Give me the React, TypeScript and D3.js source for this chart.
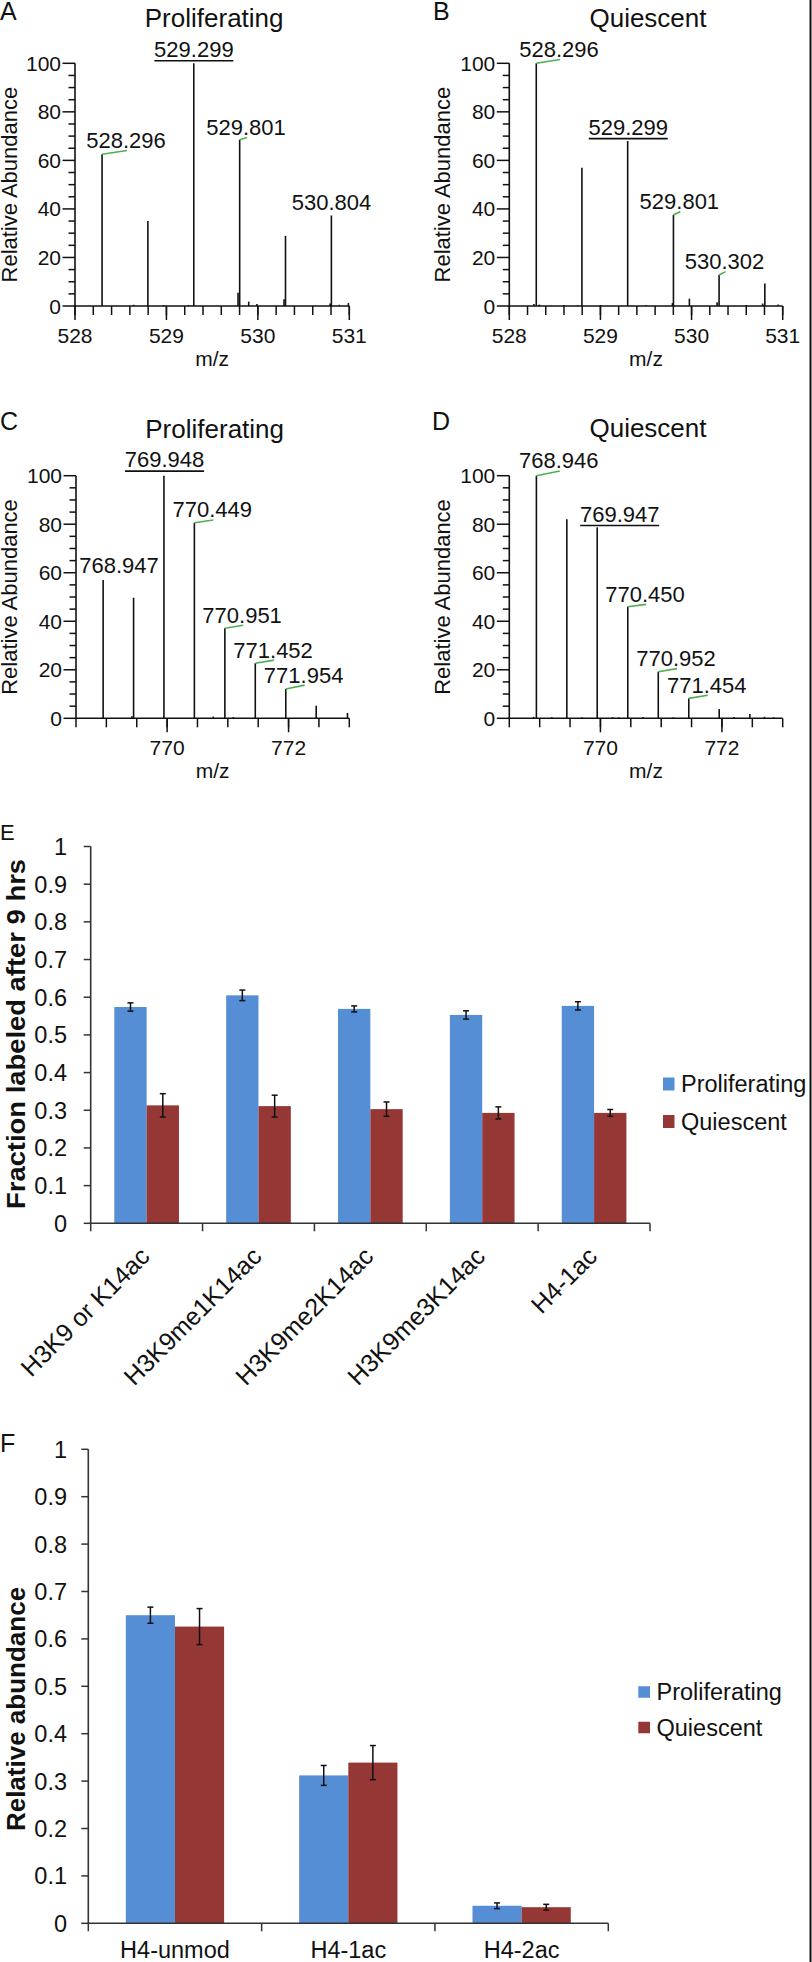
import React from 'react';
import * as d3 from 'd3';

const FONT = '"Liberation Sans", Arial, Helvetica, sans-serif';
const BLUE = '#558ed5';
const RED = '#953735';
const GREEN = '#4caf50';
const INK = '#111';

// ---------- Spectra data: [m/z, relative abundance] ----------
const peaksA: [number, number][] = [
  [528.296, 62.5], [528.797, 35.0], [529.299, 100], [529.783, 5.5], [529.801, 68.5],
  [530.286, 2.8], [530.302, 28.9], [530.804, 37.3],
  [528.64, 0.5], [528.97, 0.4], [529.24, 0.4], [529.90, 1.8], [529.99, 0.8],
  [530.79, 1.0], [530.89, 0.5], [530.99, 1.2],
];
const peaksB: [number, number][] = [
  [528.296, 100], [528.797, 57.0], [529.299, 68.0], [529.801, 37.5], [530.302, 12.8],
  [530.804, 9.3], [528.27, 0.8], [528.33, 0.6], [528.6, 0.4], [528.75, 0.3],
  [529.0, 0.4], [529.5, 0.3], [529.976, 3.0], [529.79, 1.2], [530.28, 1.5],
  [530.6, 0.4], [530.78, 1.0], [530.95, 0.6],
];
const peaksC: [number, number][] = [
  [768.947, 57.0], [769.448, 49.7], [769.948, 100], [770.449, 80.6], [770.951, 37.1],
  [771.452, 22.7], [771.954, 12.1], [772.455, 5.2], [772.97, 2.2],
  [769.42, 0.8], [770.76, 0.7], [771.09, 0.5],
];
const peaksD: [number, number][] = [
  [768.946, 100], [769.447, 82.1], [769.947, 78.7], [770.450, 46.0], [770.952, 19.2],
  [771.454, 8.2], [771.955, 3.8], [772.460, 1.8],
  [768.9, 0.6], [769.2, 0.4], [769.7, 0.4], [770.2, 0.5], [770.3, 0.4],
  [770.7, 0.5], [771.2, 0.4], [772.2, 0.5], [772.7, 0.6], [772.85, 0.4],
];

// peak annotations: peak m/z, text, label centre (m/z) and baseline (abundance)
type Ann = { mz: number; text: string; cx: number; base: number; leader: boolean; under: boolean };
const annA: Ann[] = [
  { mz: 528.296, text: '528.296', cx: 528.558, base: 65.1, leader: true, under: false },
  { mz: 529.299, text: '529.299', cx: 529.30, base: 102.6, leader: false, under: true },
  { mz: 529.801, text: '529.801', cx: 529.87, base: 70.5, leader: true, under: false },
  { mz: 530.804, text: '530.804', cx: 530.805, base: 39.6, leader: false, under: false },
];
const annB: Ann[] = [
  { mz: 528.296, text: '528.296', cx: 528.546, base: 102.6, leader: true, under: false },
  { mz: 529.299, text: '529.299', cx: 529.305, base: 70.5, leader: false, under: true },
  { mz: 529.801, text: '529.801', cx: 529.866, base: 40.0, leader: true, under: false },
  { mz: 530.302, text: '530.302', cx: 530.362, base: 15.2, leader: true, under: false },
];
const annC: Ann[] = [
  { mz: 768.947, text: '768.947', cx: 769.208, base: 59.7, leader: false, under: false },
  { mz: 769.948, text: '769.948', cx: 769.958, base: 103.4, leader: false, under: true },
  { mz: 770.449, text: '770.449', cx: 770.744, base: 82.8, leader: true, under: false },
  { mz: 770.951, text: '770.951', cx: 771.235, base: 39.4, leader: true, under: false },
  { mz: 771.452, text: '771.452', cx: 771.745, base: 25.0, leader: true, under: false },
  { mz: 771.954, text: '771.954', cx: 772.248, base: 14.7, leader: true, under: false },
];
const annD: Ann[] = [
  { mz: 768.946, text: '768.946', cx: 769.315, base: 103.0, leader: true, under: false },
  { mz: 769.947, text: '769.947', cx: 770.317, base: 81.0, leader: false, under: true },
  { mz: 770.450, text: '770.450', cx: 770.734, base: 48.0, leader: true, under: false },
  { mz: 770.952, text: '770.952', cx: 771.244, base: 21.5, leader: true, under: false },
  { mz: 771.454, text: '771.454', cx: 771.751, base: 10.5, leader: true, under: false },
];

const domain528: [number, number] = [528, 531];
const majors528 = [528, 529, 530, 531];
const minors528 = d3.range(0, 16).map((i) => 528 + i * 0.2);
const domain768: [number, number] = [768.5, 773];
const majors768 = [770, 772];
const minors768 = d3.range(0, 10).map((i) => 768.5 + i * 0.5);
const abundanceTicks = [0, 20, 40, 60, 80, 100];
const abundanceMinor = d3.range(0, 101, 5);

// ---------- Bar chart data ----------
const catsE = ['H3K9 or K14ac', 'H3K9me1K14ac', 'H3K9me2K14ac', 'H3K9me3K14ac', 'H4-1ac'];
const prolifE = [0.574, 0.605, 0.569, 0.553, 0.577];
const prolifErrE = [0.011, 0.014, 0.008, 0.011, 0.011];
const quiesE = [0.313, 0.311, 0.303, 0.293, 0.293];
const quiesErrE = [0.031, 0.029, 0.019, 0.016, 0.009];

const catsF = ['H4-unmod', 'H4-1ac', 'H4-2ac'];
const prolifF = [0.650, 0.312, 0.037];
const prolifErrF = [0.017, 0.021, 0.006];
const quiesF = [0.626, 0.339, 0.034];
const quiesErrF = [0.038, 0.036, 0.006];

const fracTicks = d3.range(0, 11).map((i) => i / 10);
const seriesNames = ['Proliferating', 'Quiescent'];

function fmtFrac(v: number) {
  if (v === 0) return '0';
  if (v === 1) return '1';
  return v.toFixed(1);
}

type SpecProps = {
  x0: number; x1: number; yb: number; yt: number;
  domain: [number, number]; majors: number[]; minors: number[];
  peaks: [number, number][]; ann: Ann[];
  title: string; titleY: number; letter: string; letterX: number; letterY: number; ylabX: number;
};

function Spectrum(p: SpecProps) {
  const x = d3.scaleLinear().domain(p.domain).range([p.x0, p.x1]);
  const y = d3.scaleLinear().domain([0, 100]).range([p.yb, p.yt]);
  const peakOf = (mz: number) => (p.peaks.find((d) => d[0] === mz) || [mz, 0])[1];
  const cx = (p.x0 + p.x1) / 2;
  return (
    <g>
      <text x={p.letterX} y={p.letterY} fontSize={25} fill={INK}>{p.letter}</text>
      <text x={cx + 2} y={p.titleY} fontSize={26} textAnchor="middle" fill={INK}>{p.title}</text>
      <text transform={`translate(${p.ylabX},${(y(0) + y(100)) / 2}) rotate(-90)`} fontSize={22} textAnchor="middle" fill={INK}>Relative Abundance</text>
      {p.peaks.map((d, i) => (
        <line key={i} x1={x(d[0])} x2={x(d[0])} y1={y(0)} y2={y(d[1])} stroke={INK} strokeWidth={1.6} />
      ))}
      <line x1={p.x0} x2={p.x0} y1={y(0)} y2={y(100)} stroke={INK} strokeWidth={1.6} />
      <line x1={p.x0} x2={p.x1} y1={y(0)} y2={y(0)} stroke={INK} strokeWidth={1.6} />
      {abundanceMinor.map((v) => (
        <line key={'ym' + v} x1={p.x0 - (v % 20 === 0 ? 12.5 : 6.5)} x2={p.x0} y1={y(v)} y2={y(v)} stroke={INK} strokeWidth={1.5} />
      ))}
      {abundanceTicks.map((v) => (
        <text key={'yl' + v} x={p.x0 - 14} y={y(v)} dy="0.36em" fontSize={21} textAnchor="end" fill={INK}>{v}</text>
      ))}
      {p.minors.map((v, i) => (
        <line key={'xm' + i} x1={x(v)} x2={x(v)} y1={y(0)} y2={y(0) + 9} stroke={INK} strokeWidth={1.5} />
      ))}
      {p.majors.map((v) => (
        <g key={'xM' + v}>
          <line x1={x(v)} x2={x(v)} y1={y(0)} y2={y(0) + 14} stroke={INK} strokeWidth={1.5} />
          <text x={x(v)} y={y(0) + 36.5} fontSize={21} textAnchor="middle" fill={INK}>{v}</text>
        </g>
      ))}
      <text x={cx} y={y(0) + 60} fontSize={21} textAnchor="middle" fill={INK}>m/z</text>
      {p.ann.map((a, i) => (
        <g key={'a' + i}>
          {a.leader && (
            <line x1={x(a.mz)} y1={y(peakOf(a.mz))} x2={x(a.cx) + 1} y2={y(a.base) + 2.5} stroke={GREEN} strokeWidth={1.6} />
          )}
          <text x={x(a.cx)} y={y(a.base)} fontSize={22} textAnchor="middle" fill={INK}>{a.text}</text>
          {a.under && (
            <line x1={x(a.cx) - 39.5} x2={x(a.cx) + 39.5} y1={y(a.base) + 3.7} y2={y(a.base) + 3.7} stroke={INK} strokeWidth={1.6} />
          )}
        </g>
      ))}
    </g>
  );
}

type BarProps = {
  cats: string[]; a: number[]; aErr: number[]; b: number[]; bErr: number[];
  x0: number; x1: number; yb: number; yt: number; pad: number;
  rotate: boolean; catFont: number; labelBase: number;
  ylab: string; ylabY: number; ylabLen?: number;
  letter: string; letterY: number; letterSize: number;
  legX: number; legY: number[]; sqW: number; sqH: number;
};

function Bars(p: BarProps) {
  const xb = d3.scaleBand<string>().domain(p.cats).range([p.x0, p.x1]).paddingInner(p.pad).paddingOuter(p.pad / 2);
  const xs = d3.scaleBand<string>().domain(seriesNames).range([0, xb.bandwidth()]);
  const y = d3.scaleLinear().domain([0, 1]).range([p.yb, p.yt]);
  const step = xb.step();
  const series = [
    { name: seriesNames[0], vals: p.a, errs: p.aErr, color: BLUE },
    { name: seriesNames[1], vals: p.b, errs: p.bErr, color: RED },
  ];
  return (
    <g>
      <text x={0} y={p.letterY} fontSize={p.letterSize} fill={INK}>{p.letter}</text>
      <text transform={`translate(25,${p.ylabY}) rotate(-90)`} fontSize={26} fontWeight="bold" textAnchor="middle" fill={INK}
        {...(p.ylabLen ? { textLength: p.ylabLen, lengthAdjust: 'spacingAndGlyphs' } : {})}>{p.ylab}</text>
      {series.map((s) =>
        p.cats.map((c, i) => {
          const bx = (xb(c) as number) + (xs(s.name) as number);
          const w = xs.bandwidth();
          const mid = bx + w / 2;
          return (
            <g key={s.name + c}>
              <rect x={bx} y={y(s.vals[i])} width={w} height={y(0) - y(s.vals[i])} fill={s.color} />
              <line x1={mid} x2={mid} y1={y(s.vals[i] - s.errs[i])} y2={y(s.vals[i] + s.errs[i])} stroke={INK} strokeWidth={1.5} />
              <line x1={mid - 3} x2={mid + 3} y1={y(s.vals[i] - s.errs[i])} y2={y(s.vals[i] - s.errs[i])} stroke={INK} strokeWidth={1.5} />
              <line x1={mid - 3} x2={mid + 3} y1={y(s.vals[i] + s.errs[i])} y2={y(s.vals[i] + s.errs[i])} stroke={INK} strokeWidth={1.5} />
            </g>
          );
        })
      )}
      <line x1={p.x0} x2={p.x0} y1={y(0)} y2={y(1)} stroke="#333" strokeWidth={1.6} />
      <line x1={p.x0} x2={p.x1} y1={y(0)} y2={y(0)} stroke="#333" strokeWidth={1.6} />
      {fracTicks.map((v) => (
        <g key={'t' + v}>
          <line x1={p.x0 - 7} x2={p.x0} y1={y(v)} y2={y(v)} stroke="#333" strokeWidth={1.5} />
          <text x={67} y={y(v)} dy="0.36em" fontSize={23.5} textAnchor="end" fill={INK}>{fmtFrac(v)}</text>
        </g>
      ))}
      {d3.range(0, p.cats.length + 1).map((i) => (
        <line key={'c' + i} x1={p.x0 + i * step} x2={p.x0 + i * step} y1={y(0)} y2={y(0) + 8} stroke="#333" strokeWidth={1.5} />
      ))}
      {p.cats.map((c) => {
        const cx = (xb(c) as number) + xb.bandwidth() / 2;
        return p.rotate ? (
          <text key={'l' + c} transform={`translate(${cx + 4.5},${p.labelBase}) rotate(-45)`} fontSize={p.catFont} textAnchor="end" fill={INK}>{c}</text>
        ) : (
          <text key={'l' + c} x={cx} y={p.labelBase} fontSize={p.catFont} textAnchor="middle" fill={INK}>{c}</text>
        );
      })}
      {series.map((s, i) => (
        <g key={'lg' + s.name}>
          <rect x={p.legX} y={p.legY[i] - p.sqH / 2} width={p.sqW} height={p.sqH} fill={s.color} />
          <text x={p.legX + p.sqW + 6.5} y={p.legY[i]} dy="0.36em" fontSize={23.5} fill={INK}>{s.name}</text>
        </g>
      ))}
    </g>
  );
}

export default function App() {
  return (
    <svg width={812} height={1962} style={{ position: 'absolute', left: 0, top: 0, background: '#fff' }} fontFamily={FONT}>
      <rect width={812} height={1962} fill="#fff" />
      <Spectrum x0={75} x1={349.3} yb={306} yt={63.3} domain={domain528} majors={majors528} minors={minors528}
        peaks={peaksA} ann={annA} title="Proliferating" titleY={26.5} letter="A" letterX={0} letterY={20} ylabX={16.7} />
      <Spectrum x0={509.3} x1={782.7} yb={306} yt={63.3} domain={domain528} majors={majors528} minors={minors528}
        peaks={peaksB} ann={annB} title="Quiescent" titleY={26.5} letter="B" letterX={433} letterY={20} ylabX={449.5} />
      <Spectrum x0={76} x1={349.3} yb={718.3} yt={475.7} domain={domain768} majors={majors768} minors={minors768}
        peaks={peaksC} ann={annC} title="Proliferating" titleY={437.5} letter="C" letterX={0} letterY={430} ylabX={16.7} />
      <Spectrum x0={509.3} x1={782.7} yb={718.3} yt={475.7} domain={domain768} majors={majors768} minors={minors768}
        peaks={peaksD} ann={annD} title="Quiescent" titleY={436.5} letter="D" letterX={432} letterY={430} ylabX={449.5} />
      <Bars cats={catsE} a={prolifE} aErr={prolifErrE} b={quiesE} bErr={quiesErrE}
        x0={90.7} x1={650} yb={1223.3} yt={846.5} pad={0.422} rotate={true} catFont={25} labelBase={1258}
        ylab="Fraction labeled after 9 hrs" ylabY={1034} ylabLen={350} letter="E" letterY={840} letterSize={22}
        legX={663} legY={[1084, 1121.5]} sqW={11.5} sqH={13} />
      <Bars cats={catsF} a={prolifF} aErr={prolifErrF} b={quiesF} bErr={quiesErrF}
        x0={88.3} x1={608.3} yb={1923.3} yt={1449.3} pad={0.433} rotate={false} catFont={23.5} labelBase={1958}
        ylab="Relative abundance" ylabY={1709} letter="F" letterY={1452} letterSize={25}
        legX={638.3} legY={[1692, 1727.5]} sqW={11.7} sqH={11.5} />
      <line x1={810.5} x2={810.5} y1={0} y2={1962} stroke={INK} strokeWidth={2} />
    </svg>
  );
}
